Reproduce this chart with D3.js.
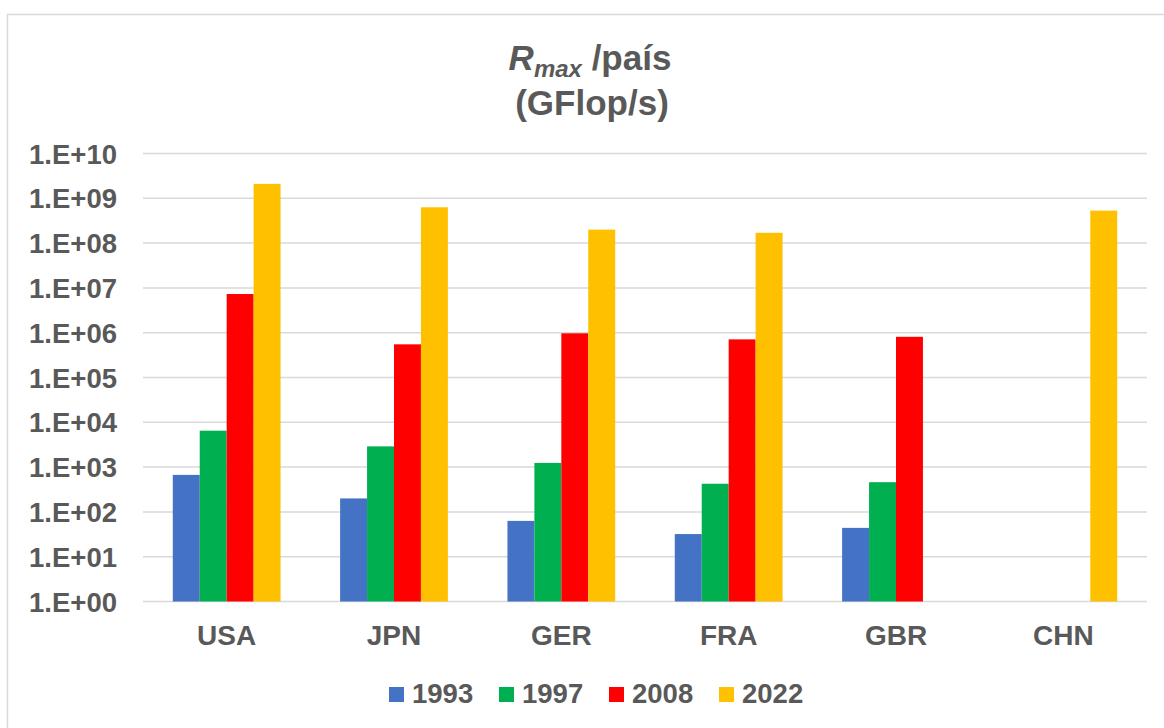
<!DOCTYPE html>
<meta charset="utf-8">
<body style="margin:0;background:#fff">
  <style>
    text { font-family: "Liberation Sans", Arial, sans-serif; font-weight: bold; fill: #595959; }
  </style>
  <div id="chart"></div>
  <script src="https://d3js.org/d3.v7.min.js"></script>
  <script>
    // data (GFlop/s), null = no bar
    var countries = ["USA", "JPN", "GER", "FRA", "GBR", "CHN"];
    var years = ["1993", "1997", "2008", "2022"];
    var r1993 = [670, 200, 63, 32, 44, null];
    var r1997 = [6500, 2900, 1240, 425, 460, null];
    var r2008 = [7.3e6, 5.5e5, 9.7e5, 7.1e5, 8.1e5, null];
    var r2022 = [2.1e9, 6.3e8, 2.0e8, 1.7e8, null, 5.3e8];
    var yTicks = [1, 1e1, 1e2, 1e3, 1e4, 1e5, 1e6, 1e7, 1e8, 1e9, 1e10];
    var colors = ["#4472C4", "#00B050", "#FF0000", "#FFC000"];

    var series = [r1993, r1997, r2008, r2022];

    var W = 1164, H = 728;
    var plot = { left: 143, right: 1147, top: 153.5, bottom: 601.5 };

    var svg = d3.select("#chart").append("svg")
      .attr("width", W)
      .attr("height", H);

    // chart area border
    svg.append("rect")
      .attr("x", 7.5).attr("y", 14.5)
      .attr("width", 1175).attr("height", 740)
      .attr("fill", "none")
      .attr("stroke", "#d9d9d9")
      .attr("stroke-width", 1.5);

    var y = d3.scaleLog()
      .domain([1, 1e10])
      .range([plot.bottom, plot.top]);

    // gap between groups ~ 2.2 bar widths, half of it at each end
    var x = d3.scaleBand()
      .domain(countries)
      .range([plot.left, plot.right])
      .paddingInner(0.356)
      .paddingOuter(0.178);

    var xs = d3.scaleBand()
      .domain(years)
      .range([0, x.bandwidth()]);

    // gridlines
    svg.append("g")
      .selectAll("line")
      .data(yTicks)
      .join("line")
      .attr("x1", plot.left)
      .attr("x2", plot.right)
      .attr("y1", function(d) { return y(d); })
      .attr("y2", function(d) { return y(d); })
      .attr("stroke", "#d9d9d9")
      .attr("stroke-width", 1.5);

    // y axis labels
    var yAxis = svg.append("g")
      .attr("transform", "translate(" + (plot.left - 26) + ",0)")
      .call(d3.axisLeft(y)
        .tickValues(yTicks)
        .tickSize(0)
        .tickPadding(0)
        .tickFormat(function(d) {
          var e = Math.round(Math.log10(d));
          return "1.E+" + (e < 10 ? "0" + e : e);
        }));
    yAxis.select(".domain").remove();
    yAxis.selectAll("text")
      .attr("dy", "0.35em")
      .style("font-size", "27.5px")
      .style("font-family", "'Liberation Sans', Arial, sans-serif")
      .style("font-weight", "bold")
      .style("fill", "#595959");

    // bars
    var groups = svg.append("g")
      .selectAll("g")
      .data(series)
      .join("g")
      .attr("fill", function(d, i) { return colors[i]; });

    groups.selectAll("rect")
      .data(function(vals, i) {
        return vals.map(function(v, j) { return { country: countries[j], year: years[i], value: v }; })
          .filter(function(d) { return d.value != null; });
      })
      .join("rect")
      .attr("x", function(d) { return x(d.country) + xs(d.year); })
      .attr("y", function(d) { return y(d.value); })
      .attr("width", xs.bandwidth())
      .attr("height", function(d) { return plot.bottom - y(d.value); });

    // x axis
    var xAxis = svg.append("g")
      .attr("transform", "translate(0," + plot.bottom + ")")
      .call(d3.axisBottom(x).tickSize(0).tickPadding(0));
    xAxis.select(".domain").remove();
    xAxis.selectAll("text")
      .attr("dy", "1.55em")
      .style("font-size", "28px")
      .style("font-family", "'Liberation Sans', Arial, sans-serif")
      .style("font-weight", "bold")
      .style("fill", "#595959");

    // title
    var title = svg.append("text")
      .attr("x", 590)
      .attr("y", 70)
      .attr("text-anchor", "middle")
      .style("font-size", "35px");
    title.append("tspan").style("font-style", "italic").text("R");
    title.append("tspan").style("font-style", "italic").style("font-size", "24px")
      .attr("dy", 7).text("max");
    title.append("tspan").attr("dy", -7).text(" /país");

    svg.append("text")
      .attr("x", 592)
      .attr("y", 115)
      .attr("text-anchor", "middle")
      .style("font-size", "35px")
      .text("(GFlop/s)");

    // legend
    var legend = svg.append("g")
      .selectAll("g")
      .data(years)
      .join("g")
      .attr("transform", function(d, i) { return "translate(" + (389 + i * 110) + ",0)"; });

    legend.append("rect")
      .attr("x", 0).attr("y", 687)
      .attr("width", 15).attr("height", 15)
      .attr("fill", function(d, i) { return colors[i]; });

    legend.append("text")
      .attr("x", 23)
      .attr("y", 703)
      .style("font-size", "27.5px")
      .text(function(d) { return d; });
  </script>
</body>
